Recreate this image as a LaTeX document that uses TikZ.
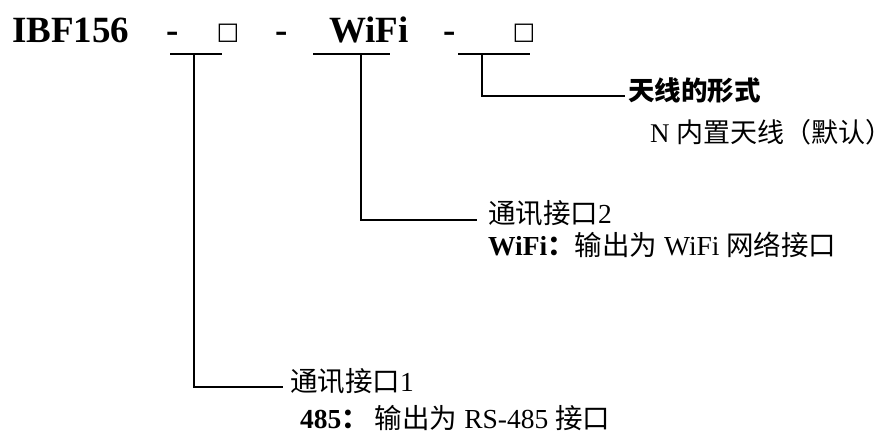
\documentclass[tikz,border=0pt]{standalone}
\usepackage{fontspec}
\setmainfont{Liberation Serif}
\newfontfamily\cjk{Noto Sans CJK SC}
\newfontfamily\symf{DejaVu Sans}
\begin{document}
\begin{tikzpicture}[x=1pt,y=-1pt,
  title/.style={font=\fontsize{37}{37}\selectfont\bfseries, inner sep=0pt, anchor=base},
  sq/.style={font=\symf\fontsize{24}{24}\selectfont, inner sep=0pt, anchor=base},
  lbl/.style={font=\fontsize{27.5}{27.5}\selectfont, inner sep=0pt, anchor=base west},
  conn/.style={line width=1.3pt}]
\useasboundingbox (0,0) rectangle (893,436);
% code row
\node[title, anchor=base west] (ibf) at (12,42) {IBF156};
\node[title] (d1) at (173,42) {-};
\node[sq] (b1) at (228,40) {□};
\node[title] (d2) at (282,42) {-};
\node[title] (wifi) at (369,42) {WiFi};
\node[title] (d3) at (450,42) {-};
\node[sq] (b2) at (524,40) {□};
% bars
\coordinate (a1) at (170,54); \coordinate (e1) at (222,54); \coordinate (m1) at (194,54);
\coordinate (a2) at (313,54); \coordinate (e2) at (390,54); \coordinate (m2) at (361,54);
\coordinate (a3) at (458,54); \coordinate (e3) at (530,54); \coordinate (m3) at (482,54);
\draw[conn] (a1) -- (e1);
\draw[conn] (a2) -- (e2);
\draw[conn] (a3) -- (e3);
% labels
\node[lbl, font=\cjk\bfseries\fontsize{26.5}{26.5}\selectfont] (t3) at (628,100) {天线的形式};
\node[lbl, font=\fontsize{27}{27}\selectfont] (t3b) at (650,142) {N {\cjk 内置天线（默认）}};
\node[lbl] (t2) at (488,223) {{\cjk 通讯接口}2};
\node[lbl] (t2b) at (488,255) {\textbf{WiFi}{\cjk\bfseries ：}{\cjk 输出为} WiFi {\cjk 网络接口}};
\node[lbl] (t1) at (290,391) {{\cjk 通讯接口}1};
\node[lbl] (t1b) at (300,428) {\textbf{485}{\cjk\bfseries ：}\hspace{6pt}{\cjk 输出为} RS-485 {\cjk 接口}};
% connectors
\coordinate (k3) at (625,96);
\coordinate (k2) at (477,220);
\coordinate (k1) at (283,387);
\draw[conn] (m3) |- (k3);
\draw[conn] (m2) |- (k2);
\draw[conn] (m1) |- (k1);
\end{tikzpicture}
\end{document}
